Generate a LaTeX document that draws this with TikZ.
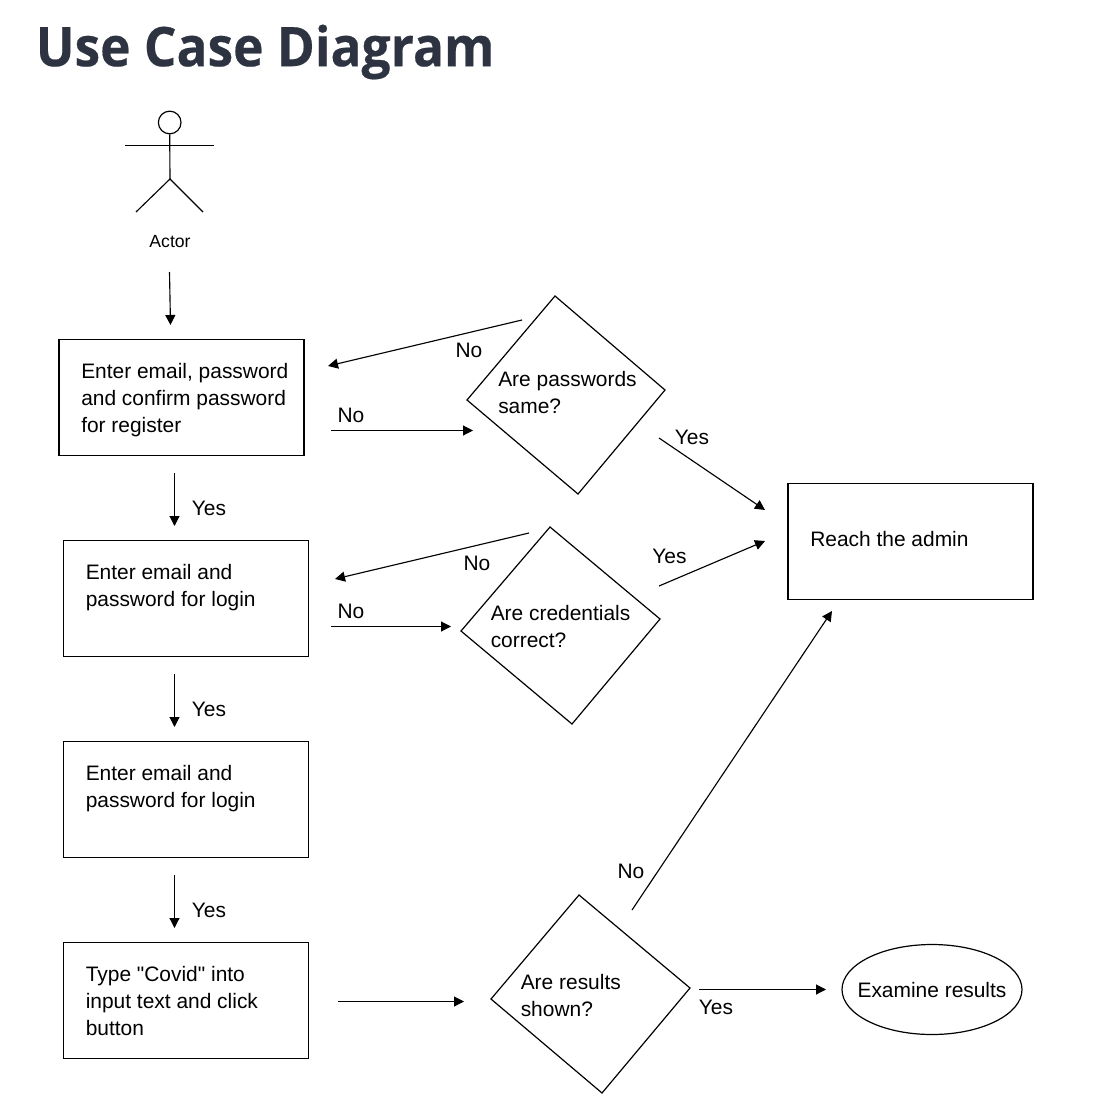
\documentclass[tikz,border=0pt]{standalone}
\usepackage{fontspec}
\newfontfamily\drawfont{Liberation Sans}
\newfontfamily\titlefont[FakeStretch=0.94,BoldFeatures={FakeStretch=0.94,FakeBold=0.35}]{Open Sans}
\usetikzlibrary{arrows.meta,shapes.geometric}
\definecolor{titleink}{HTML}{2D3340}
\tikzset{
  x=0.75pt,y=-0.75pt,
  boxst/.style={draw,line width=0.9pt,rectangle,minimum width=183.75pt,minimum height=87pt,inner sep=0pt},
  diast/.style={draw,line width=0.9pt,line join=miter},
  lab/.style={font=\drawfont\fontsize{15.7}{20.4}\selectfont,align=left,anchor=north west,inner sep=0pt},
  conn/.style={line width=0.85pt,-{Triangle[length=7.5pt,width=7.5pt]}},
  ln/.style={line width=0.85pt}
}
\begin{document}
\begin{tikzpicture}
\useasboundingbox (0,0) rectangle (1120,1106);
\node[anchor=west,inner sep=0pt,text=titleink,font=\titlefont\bfseries\fontsize{41}{48}\selectfont] (title) at (35.5,52) {Use Case Diagram};
% actor
\node[draw,circle,line width=0.9pt,minimum size=17pt,inner sep=0pt] (head) at (169.7,122.5) {};
\coordinate (hip) at (170,179);
\coordinate (armL) at (125,145.5);
\coordinate (armR) at (214,145.5);
\coordinate (footL) at (136,212);
\coordinate (footR) at (203,212);
\draw[ln] (head.south) -- (hip);
\draw[ln] (armL) -- (armR);
\draw[ln] (footL) -- (hip) -- (footR);
\node[font=\drawfont\fontsize{13.2}{15}\selectfont,inner sep=0pt] (actor) at (170,241.5) {Actor};
% boxes
\node[boxst] (b1) at (181.5,397.5) {};
\node[boxst] (b2) at (186,598.5) {};
\node[boxst] (b3) at (186,799.5) {};
\node[boxst] (b4) at (186,1000.5) {};
\node[boxst] (admin) at (910.5,541.5) {};
% skewed decision diamonds
\foreach \n/\tx/\ty/\lx/\ly/\rx/\ry/\bx/\by in {
  d1/555/296/467/400/665/390/578/494,
  d2/550/527/461/631/660/619/572/724,
  d3/579/895/491/999/690/988/602/1093}
  {\coordinate (\n t) at (\tx,\ty);
   \coordinate (\n l) at (\lx,\ly);
   \coordinate (\n r) at (\rx,\ry);
   \coordinate (\n b) at (\bx,\by);
   \draw[diast] (\n t) -- (\n r) -- (\n b) -- (\n l) -- cycle;}
\node[draw,ellipse,line width=0.9pt,minimum width=135pt,minimum height=67.5pt,inner sep=0pt] (res) at (932,989.5) {};
% texts
\node[lab] (t1) at (81,363) {Enter email, password\\and confirm password\\for register};
\node[lab] (t2) at (85.5,564) {Enter email and\\password for login};
\node[lab] (t3) at (85.5,765) {Enter email and\\password for login};
\node[lab] (t4) at (85.5,966) {Type "Covid" into\\input text and click\\button};
\node[lab] (t5) at (498,371) {Are passwords\\same?};
\node[lab] (t6) at (490.5,605) {Are credentials\\correct?};
\node[lab] (t7) at (520.5,974) {Are results\\shown?};
\node[lab] (t8) at (810,531) {Reach the admin};
\node[lab,anchor=center] (t9) at (932,990) {Examine results};
% free ends
\foreach \n/\x/\y in {a1/169.5/272,a2/170.5/325,
  c1/174.5/473,c2/174.5/526,c3/174.5/674,c4/174.5/727,c5/174.5/875,c6/174.5/928,
  e1/522/320,e2/328/366,e3/331/430.5,e4/473/430.5,
  f1/529/533,f2/335/579,f3/331/626.5,f4/451/626.5,
  g1/659/438,g2/765/510,g3/659/586,g4/765/541,
  h1/338/1001.5,h2/464/1001.5,h3/632/910,h4/832/611,h5/699/989.5,h6/826/989.5}
  {\coordinate (\n) at (\x,\y);}
\foreach \s/\t in {a1/a2,c1/c2,c3/c4,c5/c6,e1/e2,e3/e4,f1/f2,f3/f4,g1/g2,g3/g4,h1/h2,h3/h4,h5/h6}
  {\draw[conn] (\s) -- (\t);}
% edge labels
\foreach \n/\x/\y/\s in {l1/469/350/No,l2/351/415/No,l3/692/437/Yes,l4/209/508/Yes,
  l5/477/563/No,l6/351/611/No,l7/669.5/556/Yes,l8/209/709/Yes,l9/209/910/Yes,
  l10/631/871/No,l11/716/1007/Yes}
  {\node[font=\drawfont\fontsize{15.7}{18}\selectfont,inner sep=0pt] (\n) at (\x,\y) {\s};}
\end{tikzpicture}
\end{document}
